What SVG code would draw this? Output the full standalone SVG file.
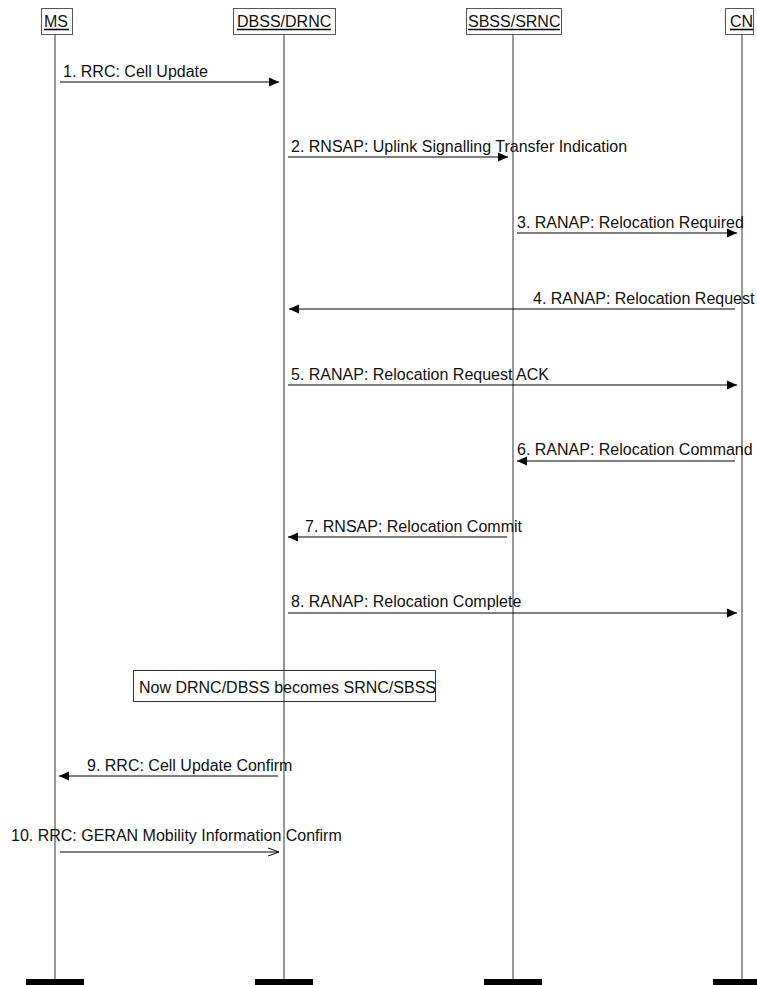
<svg xmlns="http://www.w3.org/2000/svg" width="757" height="985" viewBox="0 0 757 985">
<style>
text{font-family:"Liberation Sans",Arial,sans-serif;font-size:16px;fill:#111}
.hdr{fill:#fff;stroke:#555;stroke-width:1}
.ul{stroke:#000;stroke-width:1.6}
.life{stroke:#333;stroke-width:1}
.bar{fill:#000}
.msg{stroke:#000;stroke-width:1;fill:none}
</style>
<defs>
<marker id="ah" markerWidth="10" markerHeight="10" refX="10" refY="5" orient="auto" markerUnits="userSpaceOnUse">
<path d="M0,0.5 L10,5 L0,9.5 Z" fill="#000"/>
</marker>
<marker id="ao" markerWidth="12" markerHeight="10" refX="11" refY="5" orient="auto" markerUnits="userSpaceOnUse">
<path d="M0,1 L11,5 L0,9" fill="none" stroke="#000" stroke-width="1"/>
</marker>
</defs>
<g id="MS">
<line class="life" x1="55" y1="35" x2="55" y2="980"/>
<rect class="hdr" x="41.5" y="8.5" width="31" height="26"/>
<text x="44" y="27">MS</text>
<line class="ul" x1="44" y1="29.5" x2="69" y2="29.5"/>
<rect class="bar" x="26" y="979" width="58" height="6"/>
</g>
<g id="DBSS">
<line class="life" x1="284" y1="35" x2="284" y2="980"/>
<rect class="hdr" x="233.5" y="8.5" width="102" height="26"/>
<text x="237" y="27">DBSS/DRNC</text>
<line class="ul" x1="237" y1="29.5" x2="331" y2="29.5"/>
<rect class="bar" x="255" y="979" width="58" height="6"/>
</g>
<g id="SBSS">
<line class="life" x1="513" y1="35" x2="513" y2="980"/>
<rect class="hdr" x="466.5" y="8.5" width="95" height="26"/>
<text x="468" y="27">SBSS/SRNC</text>
<line class="ul" x1="468" y1="29.5" x2="560" y2="29.5"/>
<rect class="bar" x="484" y="979" width="58" height="6"/>
</g>
<g id="CN">
<line class="life" x1="742" y1="35" x2="742" y2="980"/>
<rect class="hdr" x="725.5" y="8.5" width="28" height="26"/>
<text x="730" y="27">CN</text>
<line class="ul" x1="730" y1="29.5" x2="753" y2="29.5"/>
<rect class="bar" x="713" y="979" width="44" height="6"/>
</g>
<g id="note">
<rect x="133.5" y="670.5" width="302" height="31" fill="none" stroke="#333" stroke-width="1"/>
<text x="139" y="693">Now DRNC/DBSS becomes SRNC/SBSS</text>
</g>
<g id="connectors">
<line class="msg" x1="60" y1="82" x2="279" y2="82" marker-end="url(#ah)"/>
<text x="63" y="77">1. RRC: Cell Update</text>
<line class="msg" x1="288" y1="157" x2="508" y2="157" marker-end="url(#ah)"/>
<text x="291" y="152">2. RNSAP: Uplink Signalling Transfer Indication</text>
<line class="msg" x1="517" y1="233" x2="737" y2="233" marker-end="url(#ah)"/>
<text x="517" y="228">3. RANAP: Relocation Required</text>
<line class="msg" x1="735" y1="309" x2="289" y2="309" marker-end="url(#ah)"/>
<text x="533" y="304">4. RANAP: Relocation Request</text>
<line class="msg" x1="288" y1="385" x2="737" y2="385" marker-end="url(#ah)"/>
<text x="291" y="380">5. RANAP: Relocation Request ACK</text>
<line class="msg" x1="735" y1="461" x2="517" y2="461" marker-end="url(#ah)"/>
<text x="517" y="455">6. RANAP: Relocation Command</text>
<line class="msg" x1="507" y1="537" x2="288" y2="537" marker-end="url(#ah)"/>
<text x="305" y="532">7. RNSAP: Relocation Commit</text>
<line class="msg" x1="288" y1="613" x2="737" y2="613" marker-end="url(#ah)"/>
<text x="291" y="607">8. RANAP: Relocation Complete</text>
<line class="msg" x1="278" y1="776" x2="59" y2="776" marker-end="url(#ah)"/>
<text x="87" y="771">9. RRC: Cell Update Confirm</text>
<line class="msg" x1="60" y1="852" x2="279" y2="852" marker-end="url(#ao)"/>
<text x="11" y="841">10. RRC: GERAN Mobility Information Confirm</text>
</g>
</svg>
